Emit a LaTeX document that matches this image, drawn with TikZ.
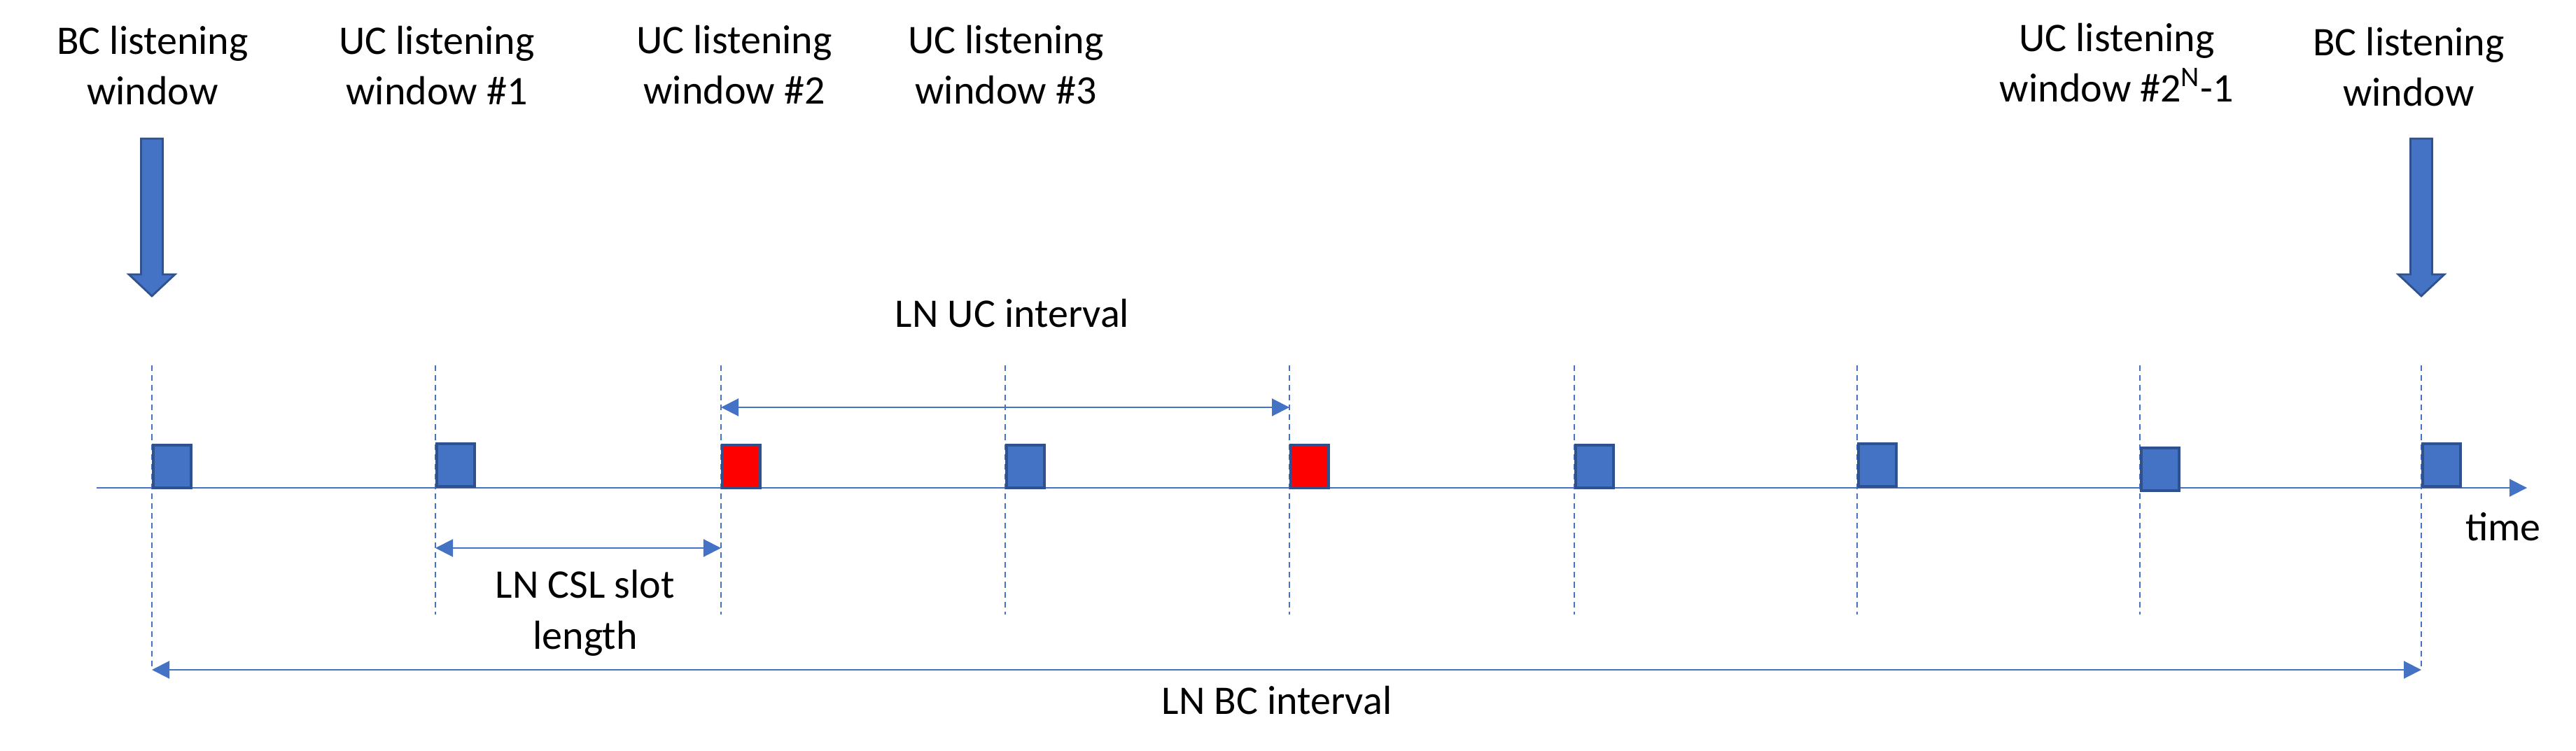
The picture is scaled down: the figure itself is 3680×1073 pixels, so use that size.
\documentclass[tikz,border=0pt]{standalone}
\usepackage{fontspec}
\setmainfont{Carlito}
\usetikzlibrary{arrows.meta,positioning}
\definecolor{lnblue}{HTML}{4472C4}
\definecolor{lnedge}{HTML}{2F528F}
\definecolor{lnred}{HTML}{FF0000}

\begin{document}
\begin{tikzpicture}[x=0.01cm,y=-0.01cm,>={Triangle[length=0.25cm,width=0.25cm]},
  lbl/.style={align=center,anchor=base,inner sep=0pt,font=\fontsize{16.5}{20.5}\selectfont},
  tick/.style={lnblue,line width=0.6pt,dash pattern=on 2.3pt off 1.7pt},
  dim/.style={lnblue,line width=0.6pt,<->},
  slot/.style={draw=lnedge,line width=1.1pt},
  bigarrow/.style={fill=lnblue,draw=lnedge,line width=0.8pt}]
\useasboundingbox (0,0) rectangle (3680,1073);

% window labels (base = last line)
\node[lbl] (bc-first) at (218,150) {BC listening\\window};
\node[lbl] (uc-1) at (624,150) {UC listening\\window \#1};
\node[lbl] (uc-2) at (1049,149) {UC listening\\window \#2};
\node[lbl] (uc-3) at (1437,149) {UC listening\\window \#3};
\node[lbl] (uc-last) at (3024,146) {UC listening\\window \#2\textsuperscript{N}-1};
\node[lbl] (bc-last) at (3441,152) {BC listening\\window};

% BC markers
\foreach \x in {217,3459}{
  \draw[bigarrow] (\x-15.5,198) -- (\x+15.5,198) -- (\x+15.5,392) -- (\x+33,392)
    -- (\x,423) -- (\x-33,392) -- (\x-15.5,392) -- cycle;
}

% slot boundaries
\foreach \i/\x/\bot in {0/217/957,1/622/878,2/1030/878,3/1436/878,4/1842/878,
                        5/2249/878,6/2653/878,7/3057/878,8/3459/957}{
  \coordinate (d\i) at (\x,697);
  \draw[tick] (\x,522) -- (\x,\bot);
}

% time axis
\coordinate (t-start) at (138,697);
\coordinate (t-end) at (3610,697);
\draw[lnblue,line width=0.6pt,->] (t-start) -- (t-end);
\node[lbl] (time) at (3576,772) {time};

% listening windows
\foreach \x/\dy/\col in {217/0/lnblue,622/-2/lnblue,1030/0/lnred,1436/0/lnblue,1842/0/lnred,
                         2249/0/lnblue,2653/-2/lnblue,3057/4/lnblue,3459/-2/lnblue}{
  \draw[slot,fill=\col] (\x+2,697+\dy) rectangle ++(54,-61);
}

% intervals
\coordinate (uc-a) at (1030,582);
\coordinate (uc-b) at (1842,582);
\draw[dim] (uc-a) -- (uc-b);
\node[lbl] (uc-int) at (1446,467) {LN UC interval};

\coordinate (csl-a) at (622,783);
\coordinate (csl-b) at (1030,783);
\draw[dim] (csl-a) -- (csl-b);
\node[lbl] (csl) at (836,927) {LN CSL slot\\length};

\coordinate (bc-a) at (217,957);
\coordinate (bc-b) at (3459,957);
\draw[dim] (bc-a) -- (bc-b);
\node[lbl] (bc-int) at (1824,1020) {LN BC interval};
\end{tikzpicture}
\end{document}
